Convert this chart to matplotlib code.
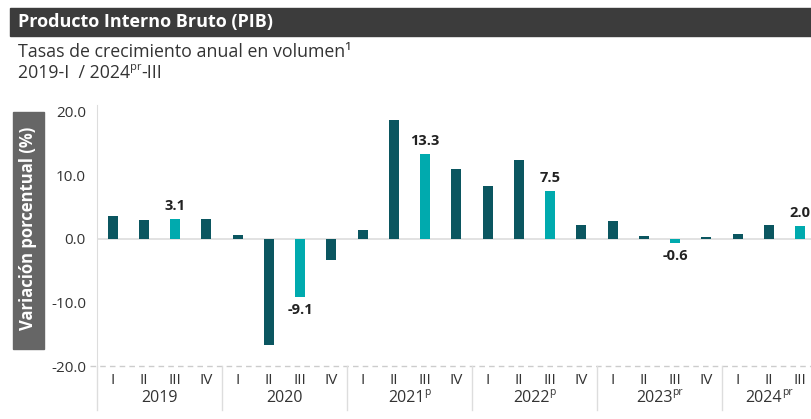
import matplotlib
matplotlib.use("Agg")
import matplotlib.pyplot as plt
from matplotlib.patches import Rectangle

plt.rcParams['font.family'] = ['Open Sans', 'DejaVu Sans']

# data
years = ['2019', '2020', '2021', '2022', '2023', '2024']
year_marks = ['', '', 'p', 'p', 'pr', 'pr']
quarters = ['I', 'II', 'III', 'IV']
values = [3.5, 3.0, 3.1, 3.1,
          0.5, -16.7, -9.1, -3.4,
          1.4, 18.6, 13.3, 11.0,
          8.3, 12.4, 7.5, 2.2,
          2.7, 0.4, -0.6, 0.3,
          0.8, 2.2, 2.0]
highlight = [2, 6, 10, 14, 18, 22]

dark = '#0b5660'
light = '#00aaae'
txt = '#333333'

fig = plt.figure(figsize=(8.12, 4.19), dpi=100)
W, H = 812, 419
renderer = fig.canvas.get_renderer()

def fx(px):
    return px / W

def fy(py):
    return 1 - py / H

def label_with_sup(xc, yc, base, sup, size, sup_size):
    # base + small raised mark, centred together on (xc, yc) in pixels from top-left
    t = fig.text(0, 0, base, fontsize=size, color=txt, ha='left', va='center')
    s = fig.text(0, 0, sup, fontsize=sup_size, color=txt, ha='left', va='bottom')
    wb = t.get_window_extent(renderer=renderer).width
    ws = s.get_window_extent(renderer=renderer).width if sup else 0
    x0 = xc - (wb + ws) / 2
    t.set_position((fx(x0), fy(yc)))
    bb = t.get_window_extent(renderer=renderer)
    s.set_position((fx(x0 + wb), (bb.y0 + bb.height * 0.5) / H))

# header bar
fig.patches.append(Rectangle((fx(10), fy(36)), fx(802), 28 / H, transform=fig.transFigure,
                             color='#3c3c3c', zorder=0))
fig.text(fx(18), fy(22), 'Producto Interno Bruto (PIB)', color='white', fontsize=13,
         fontweight='bold', va='center', ha='left')
fig.text(fx(18), fy(52), 'Tasas de crecimiento anual en volumen\u00b9', color=txt,
         fontsize=12.8, va='center', ha='left')
t = fig.text(fx(18), fy(73), '2019-I  / 2024', color=txt, fontsize=12.8,
             va='center', ha='left')
bb = t.get_window_extent(renderer=renderer)
t2 = fig.text(bb.x1 / W, (bb.y0 + bb.height * 0.5) / H, 'pr', fontsize=8,
              color=txt, ha='left', va='bottom')
bb2 = t2.get_window_extent(renderer=renderer)
fig.text(bb2.x1 / W, fy(73), '-III', color=txt, fontsize=12.8,
         va='center', ha='left')

# y label box
fig.patches.append(Rectangle((fx(13), fy(349)), fx(31), 237 / H, transform=fig.transFigure,
                             color='#666666', zorder=0))
fig.text(fx(28.5), fy(228), 'Variación porcentual (%)', color='white', fontsize=12,
         fontweight='bold', rotation=90, va='center', ha='center')

ax = fig.add_axes([fx(97), fy(366), 1 - fx(97), (366 - 105) / H])
x = list(range(len(values)))
colors = [light if i in highlight else dark for i in x]
ax.bar(x, values, width=0.32, color=colors, zorder=3)

ax.set_xlim(-0.5, 22.38)
ax.set_ylim(-20, 21)
ax.set_yticks([20, 10, 0, -10, -20])
ax.set_yticklabels(['20.0', '10.0', '0.0', '-10.0', '-20.0'])
ax.tick_params(axis='y', length=0, pad=8, labelsize=11, labelcolor=txt)
ax.set_xticks([])
for s in ['top', 'right', 'bottom']:
    ax.spines[s].set_visible(False)
ax.spines['left'].set_color('#dddddd')
ax.axhline(0, color='#dddddd', lw=1.2, zorder=1)
ax.plot([-0.72, 22.38], [-20, -20], color='#cccccc', lw=1, ls=(0, (4, 3)), zorder=1,
        clip_on=False)

for i in highlight:
    v = values[i]
    if v >= 0:
        ax.text(i, v + 1.0, f'{v:.1f}', ha='center', va='bottom', fontsize=10.5,
                fontweight='bold', color='#222222')
    else:
        ax.text(i, v - 1.0, f'{v:.1f}', ha='center', va='top', fontsize=10.5,
                fontweight='bold', color='#222222')

tr = ax.get_xaxis_transform()
for i in x:
    ax.text(i, -0.054, quarters[i % 4], transform=tr, ha='center', va='center',
            fontsize=11, color=txt, clip_on=False)
for k, y in enumerate(years):
    first = 4 * k
    last = min(4 * k + 3, len(values) - 1)
    xc_px = ax.transData.transform(((first + last) / 2, 0))[0]
    label_with_sup(xc_px, 398, y, year_marks[k], 11.5, 7.5)
for k in range(6):
    ax.plot([4 * k - 0.5, 4 * k - 0.5], [0, -0.169], transform=tr, color='#dddddd',
            lw=1, clip_on=False)

fig.savefig('out.png', dpi=100)
